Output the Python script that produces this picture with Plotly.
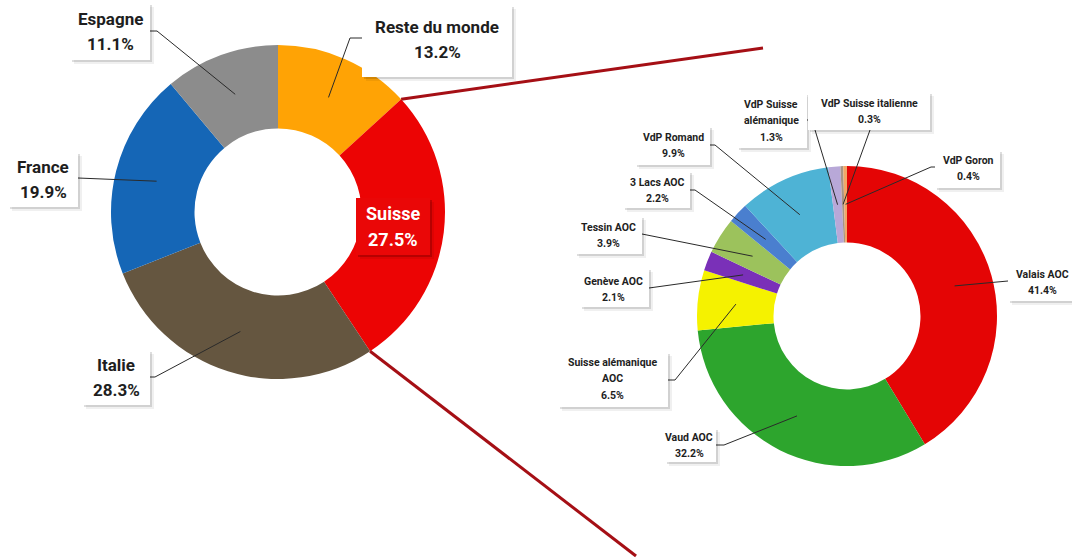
import math
import plotly.graph_objects as go

W, H = 1072, 558

# ---------------- data ----------------
world_labels = ["Reste du monde", "Suisse", "Italie", "France", "Espagne"]
world_values = [13.2, 27.5, 28.3, 19.9, 11.1]
world_colors = ["#FFA305", "#EC0404", "#655640", "#1566B6", "#8C8C8C"]

swiss_labels = ["Valais AOC", "Vaud AOC", "Suisse alémanique AOC", "Genève AOC",
                "Tessin AOC", "3 Lacs AOC", "VdP Romand", "VdP Suisse alémanique",
                "VdP Suisse italienne", "VdP Goron"]
swiss_values = [41.4, 32.2, 6.5, 2.1, 3.9, 2.2, 9.9, 1.3, 0.3, 0.4]
swiss_colors = ["#E40505", "#2DA52D", "#F5F200", "#7A30B8", "#9CC25C", "#4A7FCF",
                "#4EB3D5", "#B8A8D8", "#A89484", "#F0A868"]
swiss_text_lines = [["Valais AOC"], ["Vaud AOC"], ["Suisse alémanique", "AOC"],
                    ["Genève AOC"], ["Tessin AOC"], ["3 Lacs AOC"], ["VdP Romand"],
                    ["VdP Suisse", "alémanique"], ["VdP Suisse italienne"], ["VdP Goron"]]

# ---------------- layout geometry (pixels) ----------------
L_CX, L_CY, L_R, L_HOLE = 278, 212, 167, 0.50
R_CX, R_CY, R_R, R_HOLE = 847, 316, 150, 0.49

FONT = "Roboto, DejaVu Sans Condensed, sans-serif"


def domain(cx, cy, r):
    return dict(x=[(cx - r) / W, (cx + r) / W], y=[1 - (cy + r) / H, 1 - (cy - r) / H])


def point_at(values, idx, cx, cy, r, frac_in_slice=0.5):
    tot = sum(values)
    f = (sum(values[:idx]) + values[idx] * frac_in_slice) / tot
    a = 2 * math.pi * f
    return cx + r * math.sin(a), cy - r * math.cos(a)


fig = go.Figure()
fig.add_trace(go.Pie(labels=world_labels, values=world_values, sort=False,
                     direction="clockwise", rotation=0, hole=L_HOLE,
                     marker=dict(colors=world_colors, line=dict(width=0)),
                     textinfo="none", hoverinfo="skip", showlegend=False,
                     domain=domain(L_CX, L_CY, L_R)))
fig.add_trace(go.Pie(labels=swiss_labels, values=swiss_values, sort=False,
                     direction="clockwise", rotation=0, hole=R_HOLE,
                     marker=dict(colors=swiss_colors, line=dict(width=0)),
                     textinfo="none", hoverinfo="skip", showlegend=False,
                     domain=domain(R_CX, R_CY, R_R)))
fig.add_trace(go.Scatter(x=[], y=[], mode="markers", showlegend=False, hoverinfo="skip"))

shapes = []
annotations = []


def add_box(x0, y0, x1, y1, fill="white", shadow="rgba(0,0,0,0.13)"):
    shapes.append(dict(type="rect", xref="x", yref="y", x0=x0 + 4, y0=y0 + 4, x1=x1 + 4, y1=y1 + 4,
                       fillcolor="rgba(0,0,0,0.06)", line=dict(width=0), layer="above"))
    shapes.append(dict(type="rect", xref="x", yref="y", x0=x0 + 2, y0=y0 + 2, x1=x1 + 2, y1=y1 + 2,
                       fillcolor=shadow, line=dict(width=0), layer="above"))
    shapes.append(dict(type="rect", xref="x", yref="y", x0=x0, y0=y0, x1=x1, y1=y1,
                       fillcolor=fill, line=dict(width=0), layer="above"))


def add_text(lines, cx, y_first, step, size, color="#1e1e1e"):
    for i, t in enumerate(lines):
        annotations.append(dict(xref="x", yref="y", x=cx, y=y_first + i * step, text=f"<b>{t}</b>",
                                showarrow=False, xanchor="center", yanchor="middle",
                                font=dict(family=FONT, size=size, color=color)))


def add_leader(pts):
    d = "M " + " L ".join(f"{x:.1f},{y:.1f}" for x, y in pts)
    shapes.append(dict(type="path", xref="x", yref="y", path=d,
                       line=dict(color="#2a2a2a", width=1), layer="above"))


# connection lines from the "Suisse" slice to the detail donut
iS = world_labels.index("Suisse")
p_start = point_at(world_values, iS, L_CX, L_CY, L_R, 0.0)
p_end = point_at(world_values, iS, L_CX, L_CY, L_R, 1.0)
for (px, py), (ex, ey) in [(p_start, (763, 48)), (p_end, (636, 556))]:
    shapes.append(dict(type="line", xref="x", yref="y", x0=px, y0=py, x1=ex, y1=ey,
                       line=dict(color="#A50F15", width=3), layer="above"))

# left labels: box, text centre x, first line y, leader path (box side -> elbow)
left_layout = {
    "Reste du monde": dict(box=(362, 5, 512, 77), tx=437, ty=27, path=[(362, 38), (350, 38)]),
    "Espagne": dict(box=(70, 3, 150, 60), tx=110, ty=19, path=[(150, 31), (157, 31)]),
    "France": dict(box=(8, 152, 78, 207), tx=43, ty=167, path=[(78, 178)]),
    "Italie": dict(box=(82, 350, 150, 405), tx=116, ty=365, path=[(150, 377), (155, 377)]),
}
l_mid = L_R * (1 + L_HOLE) / 2
for name, lay in left_layout.items():
    i = world_labels.index(name)
    anchor = point_at(world_values, i, L_CX, L_CY, l_mid)
    add_leader(lay["path"] + [anchor])
for name, lay in left_layout.items():
    i = world_labels.index(name)
    add_box(*lay["box"])
    add_text([name, f"{world_values[i]:.1f}%"], lay["tx"], lay["ty"], 25, 17)

# Suisse label inside its slice
add_box(356, 198, 430, 255, fill="#EA0707", shadow="rgba(110,0,0,0.35)")
add_text(["Suisse", f"{world_values[iS]:.1f}%"], 393, 213, 26, 18, color="white")

# right labels
right_layout = {
    "Valais AOC": dict(box=(1008, 263, 1072, 301), tx=1042, ty=274, path=[(1008, 281)]),
    "Vaud AOC": dict(box=(665, 428, 716, 462), tx=689, ty=437, path=[(716, 445), (724, 445)]),
    "Suisse alémanique AOC": dict(box=(558, 352, 668, 407), tx=612, ty=362, path=[(668, 380), (675, 380)]),
    "Genève AOC": dict(box=(580, 268, 649, 307), tx=613, ty=281, path=[(649, 288)]),
    "Tessin AOC": dict(box=(575, 216, 642, 254), tx=608, ty=227, path=[(642, 234)]),
    "3 Lacs AOC": dict(box=(623, 171, 690, 208), tx=657, ty=182, path=[(690, 190), (695, 190)]),
    "VdP Romand": dict(box=(635, 126, 710, 165), tx=673, ty=137, path=[(710, 145), (715, 145)]),
    "VdP Suisse alémanique": dict(box=(737, 93, 807, 148), tx=771, ty=104, path=[(807, 120), (812, 120)]),
    "VdP Suisse italienne": dict(box=(808, 92, 930, 130), tx=869, ty=103, path=[(870, 130)]),
    "VdP Goron": dict(box=(935, 150, 1000, 188), tx=968, ty=160, path=[(935, 167), (931, 167)]),
}
r_mid = R_R * (1 + R_HOLE) / 2
for name, lay in right_layout.items():
    i = swiss_labels.index(name)
    anchor = point_at(swiss_values, i, R_CX, R_CY, r_mid)
    add_leader(lay["path"] + [anchor])
for name, lay in right_layout.items():
    i = swiss_labels.index(name)
    add_box(*lay["box"])
    add_text(swiss_text_lines[i] + [f"{swiss_values[i]:.1f}%"], lay["tx"], lay["ty"], 16.5, 10.5)

fig.update_layout(
    width=W, height=H, margin=dict(l=0, r=0, t=0, b=0),
    paper_bgcolor="white", plot_bgcolor="rgba(0,0,0,0)",
    xaxis=dict(range=[0, W], visible=False, fixedrange=True, domain=[0, 1]),
    yaxis=dict(range=[H, 0], visible=False, fixedrange=True, domain=[0, 1]),
    shapes=shapes, annotations=annotations, showlegend=False,
)

fig.write_html("out.html", config=dict(displayModeBar=False),
               post_script="document.body.style.margin='0px';document.body.style.overflow='hidden';")
